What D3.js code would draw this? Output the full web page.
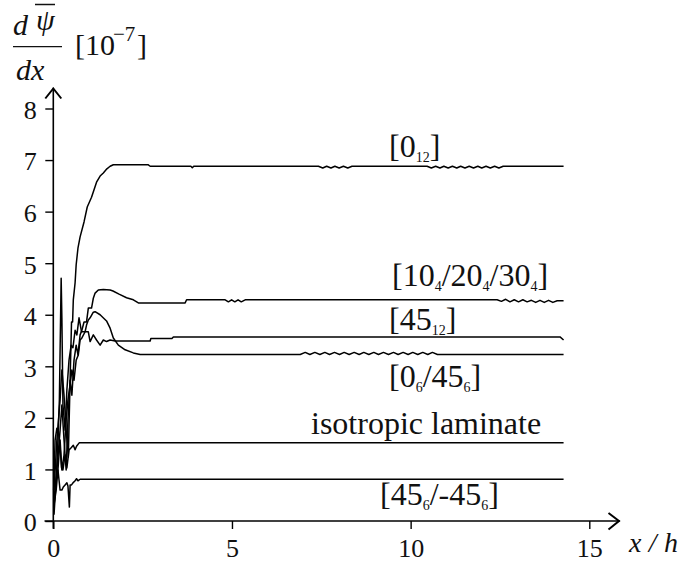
<!DOCTYPE html>
<html>
<head>
<meta charset="utf-8">
<script src="https://cdn.jsdelivr.net/npm/d3@7"></script>
<style>
  html, body { margin: 0; padding: 0; background: #fff; }
</style>
</head>
<body>
<svg id="chart" width="683" height="569"></svg>
<script>
// Axis ticks
const xTicks = [0, 5, 10, 15];
const yTicks = [0, 1, 2, 3, 4, 5, 6, 7, 8];

// Gradient of mean rotation along the strip, one array per lay-up: [x/h, value]
const s0_12 = [
  [0.02, 0.60], [0.10, 1.57], [0.19, 2.35], [0.24, 2.93], [0.30, 2.44], [0.36, 1.76],
  [0.42, 1.24], [0.47, 2.73], [0.51, 3.86], [0.54, 3.86], [0.56, 4.29], [0.61, 4.62],
  [0.64, 4.97], [0.69, 5.29], [0.75, 5.51], [0.86, 5.80], [0.95, 6.09], [1.07, 6.28],
  [1.21, 6.57], [1.31, 6.69], [1.40, 6.75], [1.50, 6.83], [1.59, 6.88], [1.68, 6.91],
  [2.65, 6.91], [2.71, 6.88], [3.85, 6.88], [3.89, 6.85], [3.93, 6.88],
  [7.42, 6.88], [7.54, 6.845], [7.65, 6.88], [7.77, 6.845], [7.88, 6.88], [8.00, 6.845],
  [8.12, 6.88], [8.24, 6.845], [8.36, 6.88],
  [10.46, 6.88], [10.58, 6.845], [10.70, 6.88], [10.82, 6.845], [10.93, 6.88], [11.05, 6.845],
  [11.17, 6.88], [11.29, 6.845], [11.40, 6.88], [11.52, 6.845], [11.64, 6.88], [11.76, 6.845],
  [11.88, 6.88], [11.99, 6.845], [12.11, 6.88], [12.23, 6.845], [12.35, 6.88], [12.47, 6.845],
  [12.59, 6.88], [14.28, 6.88]
];

const s10_20_30 = [
  [0.02, 0.41], [0.10, 0.99], [0.19, 1.76], [0.24, 2.25], [0.30, 1.57], [0.36, 0.99],
  [0.41, 1.96], [0.47, 2.73], [0.52, 2.44], [0.58, 3.12], [0.64, 3.41], [0.69, 3.22],
  [0.75, 3.61], [0.80, 3.70], [0.86, 3.86], [0.93, 3.86], [0.98, 4.13], [1.07, 4.13],
  [1.12, 4.32], [1.17, 4.42], [1.26, 4.48], [1.40, 4.49], [1.59, 4.48], [1.67, 4.46],
  [1.84, 4.40], [2.05, 4.33], [2.24, 4.29], [2.38, 4.23], [3.69, 4.23], [3.73, 4.29],
  [4.81, 4.29], [4.90, 4.25], [4.99, 4.29], [5.08, 4.25], [5.17, 4.29], [5.26, 4.25], [5.37, 4.29],
  [12.42, 4.29], [12.54, 4.26], [12.66, 4.30], [12.78, 4.25], [12.90, 4.29], [13.02, 4.25],
  [13.14, 4.29], [13.26, 4.25], [13.38, 4.28], [13.50, 4.24], [13.62, 4.28], [13.74, 4.24],
  [13.86, 4.28], [13.98, 4.24], [14.10, 4.27], [14.28, 4.27]
];

const s45_12 = [
  [0.02, 0.12], [0.08, 0.80], [0.13, 1.57], [0.17, 2.35], [0.22, 4.71], [0.24, 3.94],
  [0.27, 2.25], [0.33, 1.76], [0.38, 2.54], [0.44, 3.12], [0.50, 3.41], [0.55, 3.36],
  [0.61, 3.70], [0.66, 3.61], [0.72, 3.94], [0.79, 3.67], [0.98, 3.67], [1.03, 3.48],
  [1.12, 3.61], [1.21, 3.51], [1.31, 3.41], [1.40, 3.51], [1.49, 3.48], [1.59, 3.51],
  [1.73, 3.49], [2.71, 3.49], [2.73, 3.54], [3.32, 3.54], [3.36, 3.57], [14.18, 3.57],
  [14.28, 3.51]
];

const s0_45 = [
  [0.02, 0.31], [0.08, 0.60], [0.13, 0.99], [0.19, 1.57], [0.24, 0.99], [0.30, 1.28],
  [0.36, 1.96], [0.41, 2.35], [0.47, 2.64], [0.52, 2.93], [0.58, 2.73], [0.64, 3.12],
  [0.70, 3.22], [0.75, 3.51], [0.80, 3.55], [0.89, 3.67], [0.93, 3.80], [0.98, 3.90],
  [1.03, 3.94], [1.12, 4.05], [1.17, 4.06], [1.31, 4.00], [1.49, 3.88], [1.59, 3.74],
  [1.68, 3.55], [1.82, 3.41], [2.01, 3.32], [2.24, 3.26], [2.43, 3.23],
  [6.91, 3.23], [7.05, 3.27], [7.18, 3.23], [7.32, 3.27], [7.46, 3.23], [7.60, 3.27],
  [7.73, 3.23], [7.87, 3.27], [8.01, 3.23], [8.14, 3.27], [8.28, 3.23], [8.42, 3.27],
  [8.56, 3.23], [8.69, 3.27], [8.83, 3.23], [8.97, 3.27], [9.10, 3.23], [9.24, 3.27],
  [9.38, 3.23], [9.52, 3.27], [9.65, 3.23], [9.79, 3.27], [9.93, 3.23], [10.06, 3.27],
  [10.20, 3.23], [10.34, 3.27], [10.48, 3.23], [10.61, 3.27], [10.75, 3.23], [14.28, 3.23]
];

const sIsotropic = [
  [0.01, 0.60], [0.05, 1.57], [0.10, 1.80], [0.14, 1.76], [0.19, 1.44], [0.23, 1.03],
  [0.27, 0.99], [0.33, 1.28], [0.38, 1.03], [0.44, 1.38], [0.50, 1.42], [0.56, 1.47],
  [0.61, 1.38], [0.65, 1.45], [0.73, 1.52], [14.28, 1.52]
];

const s45_m45 = [
  [0.02, 0.31], [0.08, 0.80], [0.13, 0.99], [0.19, 0.60], [0.24, 0.60], [0.28, 0.66],
  [0.33, 0.70], [0.38, 0.74], [0.41, 0.68], [0.45, 0.27], [0.47, 0.70], [0.51, 0.70],
  [0.55, 0.74], [0.61, 0.78], [0.65, 0.82], [0.69, 0.78], [0.75, 0.81], [14.28, 0.81]
];

const seriesList = [s0_12, s10_20_30, s45_12, s0_45, sIsotropic, s45_m45];

// Curve labels: pieces of text, "sub" marks a subscript
const curveLabels = [
  [["[0"], ["12", "sub"], ["]"]],
  [["[10"], ["4", "sub"], ["/20"], ["4", "sub"], ["/30"], ["4", "sub"], ["]"]],
  [["[45"], ["12", "sub"], ["]"]],
  [["[0"], ["6", "sub"], ["/45"], ["6", "sub"], ["]"]],
  [["isotropic laminate"]],
  [["[45"], ["6", "sub"], ["/-45"], ["6", "sub"], ["]"]]
];

// ---- layout ----
const FONT = "Liberation Serif";
const INK = "#111";
const svg = d3.select("#chart");
const x = d3.scaleLinear().domain([0, 15]).range([53.3, 589.3]);
const y = d3.scaleLinear().domain([0, 8]).range([521, 108.5]);

function addText(parent, px, py, size, str, italic) {
  const t = parent.append("text").attr("x", px).attr("y", py)
    .attr("font-family", FONT).attr("font-size", size).attr("fill", INK);
  if (italic) t.attr("font-style", "italic");
  if (str !== undefined) t.text(str);
  return t;
}

// Axis lines with arrow heads
const axisG = svg.append("g").attr("stroke", "#000").attr("fill", "none")
  .attr("stroke-width", 1.6).attr("stroke-linecap", "square");
axisG.append("line").attr("x1", x(0)).attr("y1", y(0) + 7).attr("x2", x(0)).attr("y2", 88.5);
axisG.append("polyline")
  .attr("points", `${x(0) - 8},98.5 ${x(0)},88.5 ${x(0) + 8},98.5`)
  .attr("stroke-width", 2).attr("stroke-linecap", "butt");
axisG.append("line").attr("x1", x(0) - 8).attr("y1", y(0)).attr("x2", 619).attr("y2", y(0));
axisG.append("polyline")
  .attr("points", `608.5,513 619,${y(0)} 608.5,529.5`)
  .attr("stroke-width", 2).attr("stroke-linecap", "butt");

// Ticks and tick labels
const yAxis = svg.append("g").attr("transform", `translate(${x(0)},0)`)
  .call(d3.axisLeft(y).tickValues(yTicks).tickSize(8).tickPadding(8.5));
const xAxis = svg.append("g").attr("transform", `translate(0,${y(0)})`)
  .call(d3.axisBottom(x).tickValues(xTicks).tickSize(8).tickPadding(9.5));
[yAxis, xAxis].forEach(g => {
  g.attr("font-family", FONT).attr("font-size", 26);
  g.select(".domain").remove();
  g.selectAll(".tick line").attr("stroke", "#000").attr("stroke-width", 1.4);
  g.selectAll(".tick text").attr("fill", INK);
});
yAxis.selectAll(".tick text").attr("dy", "0.38em");

// Curves
const line = d3.line().x(d => x(d[0])).y(d => y(d[1]));
svg.append("g").selectAll("path").data(seriesList).join("path")
  .attr("d", line)
  .attr("fill", "none")
  .attr("stroke", "#000")
  .attr("stroke-width", 1.5)
  .attr("stroke-linejoin", "round");

// Curve labels
const labelAnchors = [[389, 157], [392, 286], [389, 330], [389, 387], [311, 434], [380, 505]];
curveLabels.forEach((parts, i) => {
  const t = addText(svg, labelAnchors[i][0], labelAnchors[i][1], 32);
  let shifted = false;
  parts.forEach(p => {
    const isSub = p[1] === "sub";
    const ts = t.append("tspan").text(p[0]);
    if (isSub) ts.attr("font-size", 14);
    if (isSub && !shifted) { ts.attr("dy", 5); shifted = true; }
    else if (!isSub && shifted) { ts.attr("dy", -5); shifted = false; }
  });
});

// Axis titles
const title = svg.append("g");
addText(title, 13, 35, 30, "d", true);
addText(title, 36, 30, 30, "ψ", true);
title.append("line").attr("x1", 35).attr("x2", 55).attr("y1", 4.5).attr("y2", 4.5)
  .attr("stroke", INK).attr("stroke-width", 1.5);
title.append("line").attr("x1", 13).attr("x2", 62).attr("y1", 46.7).attr("y2", 46.7)
  .attr("stroke", INK).attr("stroke-width", 1.3);
addText(title, 16, 80, 30, "dx", true);
addText(title, 75, 55, 30, "[10");
addText(title, 113, 41, 21, "−7");
addText(title, 137, 55, 30, "]");

addText(svg, 629, 552, 28, "x/h", true)
  .attr("textLength", 49).attr("lengthAdjust", "spacing");
</script>
</body>
</html>
